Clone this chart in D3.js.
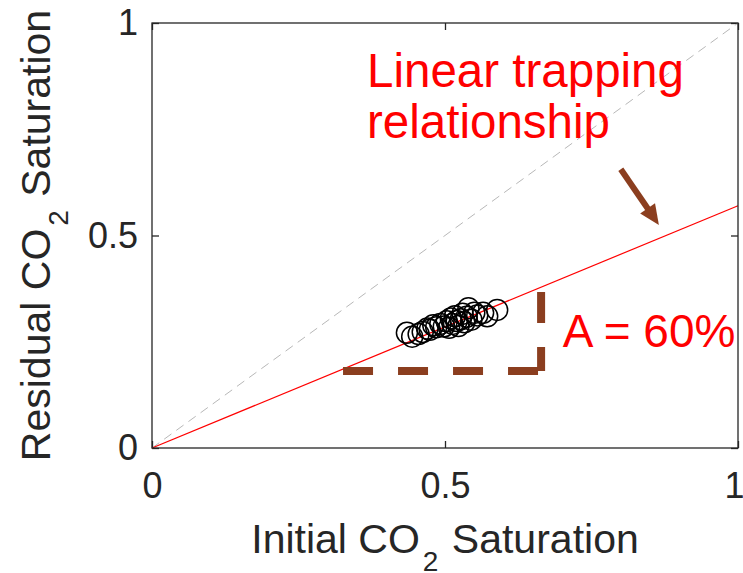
<!DOCTYPE html>
<html lang="en">
<head>
<meta charset="utf-8">
<title>Linear trapping relationship</title>
<script src="https://d3js.org/d3.v7.min.js"></script>
<style type="text/css">
body { margin: 0; background: #fff; }
svg text { font-family: "Liberation Sans", Arial, Helvetica, sans-serif; }
.axis text { fill: #262626; font-size: 36px; }
.axis line { stroke: #262626; stroke-width: 1.3; }
.axis path { display: none; }
</style>
</head>
<body>
<script>
// measured core data (initial vs residual CO2 saturation)
var initialSat  = [0.435, 0.444, 0.455, 0.462, 0.470, 0.474, 0.480, 0.485, 0.492, 0.498,
                   0.503, 0.507, 0.510, 0.513, 0.517, 0.520, 0.523, 0.527, 0.530, 0.533,
                   0.537, 0.540, 0.545, 0.550, 0.555, 0.565, 0.572, 0.589];
var residualSat = [0.271, 0.262, 0.268, 0.273, 0.281, 0.278, 0.289, 0.284, 0.292, 0.286,
                   0.298, 0.283, 0.305, 0.292, 0.310, 0.299, 0.287, 0.303, 0.316, 0.296,
                   0.309, 0.329, 0.302, 0.318, 0.312, 0.318, 0.310, 0.325];

var tickValues = [0, 0.5, 1];
var trappingSlope = 0.57;       // residual = A * initial
var unitLine = [0, 1];          // 1:1 reference line

// slope triangle, arrow and labels (data coordinates)
var triangleRun  = [0.326, 0.671];   // horizontal leg x-range
var triangleRise = [0.181, 0.367];   // vertical leg y-range
var triangleCornerX = 0.664;
var arrowFrom = [0.800, 0.656];
var arrowTo   = [0.865, 0.525];
var noteLines = ["Linear trapping", "relationship"];
var noteX = 0.367, noteY = [0.849, 0.729];
var slopeLabel = "A = 60%";
var slopeLabelPos = [0.701, 0.238];

// note: "top" is a reserved window global, so use plot* names
var width = 743,
    height = 573,
    plotLeft = 152, plotRight = 738, plotTop = 23, plotBottom = 448;

var brown = "#8b3e1f";

var x = d3.scaleLinear().domain([0, 1]).range([plotLeft, plotRight]);
var y = d3.scaleLinear().domain([0, 1]).range([plotBottom, plotTop]);
var fmt = d3.format("~g");

var svg = d3.select("body")
    .append("svg")
    .attr("width", width)
    .attr("height", height);

// axes with inward ticks on all four sides
svg.append("g")
    .attr("class", "axis")
    .attr("transform", "translate(0," + plotBottom + ")")
    .call(d3.axisBottom(x).tickValues(tickValues).tickSize(-7).tickSizeOuter(0)
        .tickPadding(24).tickFormat(fmt))
    .selectAll("text")
    .attr("dx", function (d) { return d === 1 ? -4 : 0; });

svg.append("g")
    .attr("class", "axis")
    .attr("transform", "translate(" + plotLeft + ",0)")
    .call(d3.axisLeft(y).tickValues(tickValues).tickSize(-7).tickSizeOuter(0)
        .tickPadding(14).tickFormat(fmt));

svg.append("g")
    .attr("class", "axis")
    .attr("transform", "translate(0," + plotTop + ")")
    .call(d3.axisTop(x).tickValues(tickValues).tickSize(-7).tickSizeOuter(0).tickFormat(""));

svg.append("g")
    .attr("class", "axis")
    .attr("transform", "translate(" + plotRight + ",0)")
    .call(d3.axisRight(y).tickValues(tickValues).tickSize(-7).tickSizeOuter(0).tickFormat(""));

// 1:1 line
svg.append("line")
    .attr("x1", x(unitLine[0])).attr("y1", y(unitLine[0]))
    .attr("x2", x(unitLine[1])).attr("y2", y(unitLine[1]))
    .attr("stroke", "#b8b8b8")
    .attr("stroke-width", 1)
    .attr("stroke-dasharray", "9,6");

// linear trapping fit
svg.append("line")
    .attr("x1", x(0)).attr("y1", y(0))
    .attr("x2", x(1)).attr("y2", y(trappingSlope))
    .attr("stroke", "red")
    .attr("stroke-width", 1.2);

// data points
svg.selectAll("circle.pt")
    .data(initialSat)
    .enter()
    .append("circle")
    .attr("class", "pt")
    .attr("cx", function (d) { return x(d); })
    .attr("cy", function (d, i) { return y(residualSat[i]); })
    .attr("r", 10.5)
    .attr("fill", "none")
    .attr("stroke", "#000")
    .attr("stroke-width", 1.5);

// slope triangle (dashed brown)
svg.append("line")
    .attr("x1", x(triangleRun[0])).attr("y1", y(triangleRise[0]))
    .attr("x2", x(triangleRun[1])).attr("y2", y(triangleRise[0]))
    .attr("stroke", brown)
    .attr("stroke-width", 8)
    .attr("stroke-dasharray", "30,25");

svg.append("line")
    .attr("x1", x(triangleCornerX)).attr("y1", y(triangleRise[1]))
    .attr("x2", x(triangleCornerX)).attr("y2", y(triangleRise[0]))
    .attr("stroke", brown)
    .attr("stroke-width", 8)
    .attr("stroke-dasharray", "31,24");

// arrow
var ax0 = x(arrowFrom[0]), ay0 = y(arrowFrom[1]),
    ax1 = x(arrowTo[0]), ay1 = y(arrowTo[1]);
var len = Math.sqrt((ax1 - ax0) * (ax1 - ax0) + (ay1 - ay0) * (ay1 - ay0));
var ux = (ax1 - ax0) / len, uy = (ay1 - ay0) / len;
var headLen = 20, headHalf = 9;
var bx = ax1 - ux * headLen, by = ay1 - uy * headLen;

svg.append("line")
    .attr("x1", ax0).attr("y1", ay0)
    .attr("x2", bx + ux * 2).attr("y2", by + uy * 2)
    .attr("stroke", brown)
    .attr("stroke-width", 6);

svg.append("polygon")
    .attr("points", [
        [ax1, ay1],
        [bx - uy * headHalf, by + ux * headHalf],
        [bx + uy * headHalf, by - ux * headHalf]
    ].map(function (p) { return p.join(","); }).join(" "))
    .attr("fill", brown);

// annotation text
svg.selectAll("text.note")
    .data(noteLines)
    .enter()
    .append("text")
    .attr("class", "note")
    .attr("x", x(noteX))
    .attr("y", function (d, i) { return y(noteY[i]); })
    .attr("fill", "red")
    .style("font-size", "47.5px")
    .text(function (d) { return d; });

svg.append("text")
    .attr("x", x(slopeLabelPos[0]))
    .attr("y", y(slopeLabelPos[1]))
    .attr("fill", "red")
    .style("font-size", "46px")
    .text(slopeLabel);

// axis labels with CO2 subscript
function co2Label(sel, first, last) {
    sel.append("tspan").text(first);
    sel.append("tspan").attr("dx", 3).attr("dy", 18).style("font-size", "28px").text("2");
    sel.append("tspan").attr("dx", 2).attr("dy", -18).text(last);
}

svg.append("text")
    .attr("x", (plotLeft + plotRight) / 2)
    .attr("y", 553)
    .attr("text-anchor", "middle")
    .attr("fill", "#262626")
    .style("font-size", "41px")
    .call(co2Label, "Initial CO", " Saturation");

svg.append("text")
    .attr("transform", "translate(50," + (plotTop + plotBottom) / 2 + ") rotate(-90)")
    .attr("text-anchor", "middle")
    .attr("fill", "#262626")
    .style("font-size", "41px")
    .call(co2Label, "Residual CO", " Saturation");

// box
svg.append("rect")
    .attr("x", plotLeft).attr("y", plotTop)
    .attr("width", plotRight - plotLeft).attr("height", plotBottom - plotTop)
    .attr("fill", "none")
    .attr("stroke", "#262626")
    .attr("stroke-width", 1.3);
</script>
</body>
</html>
